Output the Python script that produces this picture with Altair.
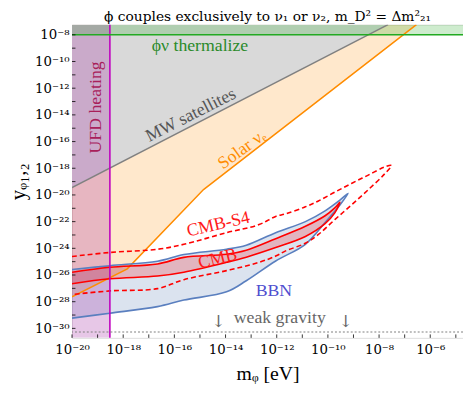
import altair as alt
import pandas as pd

# ---------------- axis ranges (log10 units) ----------------
X_MIN_EXP, X_MAX_EXP = -20.0, -4.72
Y_MIN_EXP, Y_MAX_EXP = -30.71, -7.24

X_TICK_EXPS = [-20, -18, -16, -14, -12, -10, -8, -6]
X_TICK_LABELS = ["10⁻²⁰", "10⁻¹⁸", "10⁻¹⁶", "10⁻¹⁴", "10⁻¹²", "10⁻¹⁰", "10⁻⁸", "10⁻⁶"]
Y_TICK_EXPS = [-30, -28, -26, -24, -22, -20, -18, -16, -14, -12, -10, -8]
Y_TICK_LABELS = ["10⁻³⁰", "10⁻²⁸", "10⁻²⁶", "10⁻²⁴", "10⁻²²", "10⁻²⁰", "10⁻¹⁸",
                 "10⁻¹⁶", "10⁻¹⁴", "10⁻¹²", "10⁻¹⁰", "10⁻⁸"]
X_MINOR_EXPS = [-20, -19, -18, -17, -16, -15, -14, -13, -12, -11, -10, -9, -8, -7, -6, -5]
Y_MINOR_EXPS = [-30, -29, -28, -27, -26, -25, -24, -23, -22, -21, -20, -19, -18, -17, -16,
                -15, -14, -13, -12, -11, -10, -9, -8]

# ---------------- constraints (log10 m_phi, log10 y) ----------------
MW_X = [-20.0, -7.65]
MW_Y = [-19.44, -7.24]

SOLAR_X = [-20.0, -17.84, -14.86, -6.54]
SOLAR_Y = [-27.63, -25.54, -19.60, -7.24]

UFD_M = -18.52
THERM_Y = -8.0
WEAK_Y = -30.27

BBN_X = [-20.0, -18.52, -16.66, -15.63, -13.96, -13.19, -12.04, -10.88, -10.11, -9.53, -9.21]
BBN_UP = [-25.59, -25.30, -24.97, -24.47, -24.07, -23.77, -22.83, -22.00, -21.19, -20.38, -19.88]
BBN_LO = [-29.23, -28.86, -28.37, -27.88, -27.26, -26.43, -24.95, -23.70, -22.07, -20.75, -19.88]

CMB_X = [-20.0, -18.52, -16.66, -15.63, -13.96, -13.19, -12.04, -10.88, -10.11, -9.73, -9.53]
CMB_UP = [-25.79, -25.42, -25.17, -24.68, -24.44, -24.14, -23.28, -22.35, -21.56, -20.97, -20.55]
CMB_LO = [-26.65, -26.28, -26.08, -25.79, -25.05, -24.66, -23.94, -23.11, -22.15, -21.34, -20.55]

S4_X = [-20.0, -18.52, -16.66, -15.63, -13.96, -12.69, -12.04, -11.65, -10.88, -10.37,
        -9.73, -9.08, -8.44, -7.80, -7.52]
S4_UP = [-24.61, -24.31, -24.07, -23.70, -22.83, -22.22, -21.61, -21.41, -20.89, -20.45,
         -19.79, -19.14, -18.53, -17.92, -17.79]
S4_LO = [-27.46, -27.19, -27.02, -26.35, -25.67, -25.05, -24.58, -24.19, -23.62, -22.96,
         -21.85, -20.75, -19.64, -18.46, -17.79]

FONT = "Liberation Serif"
SYMFONT = "DejaVu Serif"

# labels: (text, log10 m, log10 y, angle, color, size, font)
LABELS = [
    ("MW satellites", -15.35, -14.03, -27, "#555555", 18, FONT),
    ("Solar νₑ", -13.35, -16.61, -36, "#ff8c00", 18, FONT),
    ("UFD heating", -19.05, -13.44, -90, "#a8205a", 18, FONT),
    ("ϕν thermalize", -15.0, -8.81, 0, "#2a8a2a", 18, FONT),
    ("CMB-S4", -14.28, -22.22, -13, "#ff1a1a", 18, FONT),
    ("CMB", -14.31, -24.80, -14, "#ff1a1a", 18, FONT),
    ("BBN", -12.11, -27.17, 0, "#4f4fcf", 18, FONT),
    ("weak gravity", -11.88, -29.23, 0, "#666666", 18, FONT),
    ("↓", -14.28, -29.55, 0, "#666666", 17, SYMFONT),
    ("↓", -9.31, -29.55, 0, "#666666", 17, SYMFONT),
]

TITLE = "ϕ couples exclusively to ν₁ or ν₂,  m_D² = Δm²₂₁"
W, H = 397, 318


def p(e):
    return 10.0 ** e


xs = alt.Scale(type="log", domain=[p(X_MIN_EXP), p(X_MAX_EXP)], nice=False)
ys = alt.Scale(type="log", domain=[p(Y_MIN_EXP), p(Y_MAX_EXP)], nice=False)


def label_expr(exps, labels):
    expr = "''"
    for e, lab in zip(exps, labels):
        expr = f"(round(log(datum.value)/LN10) == {e}) ? '{lab}' : ({expr})"
    return expr


X_AXIS = alt.Axis(values=[p(e) for e in X_TICK_EXPS], labelExpr=label_expr(X_TICK_EXPS, X_TICK_LABELS),
                  ticks=False, grid=False, domain=False, labelFont=SYMFONT, labelFontSize=13.5,
                  labelColor="black", labelPadding=5, labelFlush=False, labelOverlap=False,
                  title="mᵩ [eV]", titleFont=FONT, titleFontSize=20, titleFontWeight="normal",
                  titleColor="black", titlePadding=8)
Y_AXIS = alt.Axis(values=[p(e) for e in Y_TICK_EXPS], labelExpr=label_expr(Y_TICK_EXPS, Y_TICK_LABELS),
                  ticks=False, grid=False, domain=False, labelFont=SYMFONT, labelFontSize=13.5,
                  labelColor="black", labelPadding=3, labelFlush=False, labelOverlap=False,
                  title="yᵩ₁,₂", titleFont=FONT, titleFontSize=21, titleFontWeight="normal",
                  titleColor="black", titlePadding=6)


def X(field="m"):
    return alt.X(f"{field}:Q", scale=xs, axis=X_AXIS)


def Y(field="y"):
    return alt.Y(f"{field}:Q", scale=ys, axis=Y_AXIS)


def area_df(xe, up, lo):
    return pd.DataFrame({"m": [p(v) for v in xe], "y": [p(v) for v in up], "y2": [p(v) for v in lo]})


def outline_df(xe, up, lo):
    pts = [(p(a), p(b)) for a, b in zip(xe, up)]
    pts += [(p(a), p(b)) for a, b in list(zip(xe, lo))[:-1][::-1]]
    return pd.DataFrame({"m": [q[0] for q in pts], "y": [q[1] for q in pts], "o": list(range(len(pts)))})


top = p(Y_MAX_EXP)
bottom = p(Y_MIN_EXP)

# fills
solar_fill = alt.Chart(pd.DataFrame({"m": [p(v) for v in SOLAR_X], "y": [p(v) for v in SOLAR_Y], "t": top})).mark_area(
    color="#ff8c00", opacity=0.2, clip=True).encode(x=X(), y=Y(), y2="t:Q")
mw_fill = alt.Chart(pd.DataFrame({"m": [p(v) for v in MW_X], "y": [p(v) for v in MW_Y], "t": top})).mark_area(
    color="#d9d9d9", opacity=1, clip=True).encode(x=X(), y=Y(), y2="t:Q")
bbn_fill = alt.Chart(area_df(BBN_X, BBN_UP, BBN_LO)).mark_area(
    color="#4c72b0", opacity=0.2, interpolate="monotone", clip=True).encode(x=X(), y=Y(), y2="y2:Q")
cmb_fill = alt.Chart(area_df(CMB_X, CMB_UP, CMB_LO)).mark_area(
    color="#ff0000", opacity=0.2, interpolate="monotone", clip=True).encode(x=X(), y=Y(), y2="y2:Q")
ufd_fill = alt.Chart(pd.DataFrame({"m": [p(X_MIN_EXP)], "m2": [p(UFD_M)], "y": [bottom], "y2": [top]})).mark_rect(
    color="#a020a0", opacity=0.25, clip=True).encode(x=X(), x2="m2:Q", y=Y(), y2="y2:Q")
therm_fill = alt.Chart(pd.DataFrame({"m": [p(X_MIN_EXP)], "m2": [p(X_MAX_EXP)], "y": [p(THERM_Y)], "y2": [top]})).mark_rect(
    color="#22aa22", opacity=0.22, clip=True).encode(x=X(), x2="m2:Q", y=Y(), y2="y2:Q")

# lines
mw_line = alt.Chart(pd.DataFrame({"m": [p(v) for v in MW_X], "y": [p(v) for v in MW_Y]})).mark_line(
    color="#808080", strokeWidth=1.5, clip=True).encode(x=X(), y=Y())
solar_line = alt.Chart(pd.DataFrame({"m": [p(v) for v in SOLAR_X], "y": [p(v) for v in SOLAR_Y]})).mark_line(
    color="#ff8c00", strokeWidth=1.5, clip=True).encode(x=X(), y=Y())
bbn_line = alt.Chart(outline_df(BBN_X, BBN_UP, BBN_LO)).mark_line(
    color="#5a7fbf", strokeWidth=1.6, interpolate="catmull-rom", clip=True).encode(x=X(), y=Y(), order="o:Q")
cmb_line = alt.Chart(outline_df(CMB_X, CMB_UP, CMB_LO)).mark_line(
    color="#ff0000", strokeWidth=1.6, interpolate="catmull-rom", clip=True).encode(x=X(), y=Y(), order="o:Q")
s4_line = alt.Chart(outline_df(S4_X, S4_UP, S4_LO)).mark_line(
    color="#ff0000", strokeWidth=1.6, strokeDash=[5, 3], interpolate="catmull-rom", clip=True).encode(
    x=X(), y=Y(), order="o:Q")
ufd_line = alt.Chart(pd.DataFrame({"m": [p(UFD_M)]})).mark_rule(color="#bf00bf", strokeWidth=1.6).encode(x=X())
therm_line = alt.Chart(pd.DataFrame({"y": [p(THERM_Y)]})).mark_rule(color="#22aa22", strokeWidth=1.6).encode(y=Y())
weak_line = alt.Chart(pd.DataFrame({"y": [p(WEAK_Y)]})).mark_rule(
    color="#808080", strokeWidth=1.2, strokeDash=[2, 2]).encode(y=Y())

# ticks (inward)
xticks = alt.Chart(pd.DataFrame({"m": [p(e) for e in X_MINOR_EXPS]})).mark_rule(
    color="black", strokeWidth=0.8).encode(x=X(), y=alt.value(H), y2=alt.value(H - 3.5))
yticks = alt.Chart(pd.DataFrame({"y": [p(e) for e in Y_MINOR_EXPS]})).mark_rule(
    color="black", strokeWidth=0.8).encode(y=Y(), x=alt.value(0), x2=alt.value(3.5))

texts = []
for txt, lx, ly, ang, col, sz, fnt in LABELS:
    texts.append(alt.Chart(pd.DataFrame({"m": [p(lx)], "y": [p(ly)], "t": [txt]})).mark_text(
        font=fnt, fontSize=sz, color=col, angle=ang % 360, align="center", baseline="middle").encode(
        x=X(), y=Y(), text="t:N"))

title_mark = alt.Chart(pd.DataFrame({"t": [TITLE]})).mark_text(
    font=SYMFONT, fontSize=14, color="black", align="center", baseline="alphabetic").encode(
    x=alt.value(W / 2), y=alt.value(-3.5), text="t:N")

chart = alt.layer(
    solar_fill, mw_fill, bbn_fill, cmb_fill, ufd_fill, therm_fill,
    mw_line, solar_line, bbn_line, cmb_line, s4_line, ufd_line, therm_line, weak_line,
    xticks, yticks, *texts, title_mark
).properties(
    width=W, height=H,
    autosize=alt.AutoSizeParams(type="none"),
    padding={"left": 65, "top": 14, "right": 0, "bottom": 50},
).configure_view(stroke="black", strokeWidth=1).configure(background="white")

chart.save("out.html", embed_options={"renderer": "svg", "actions": False})
